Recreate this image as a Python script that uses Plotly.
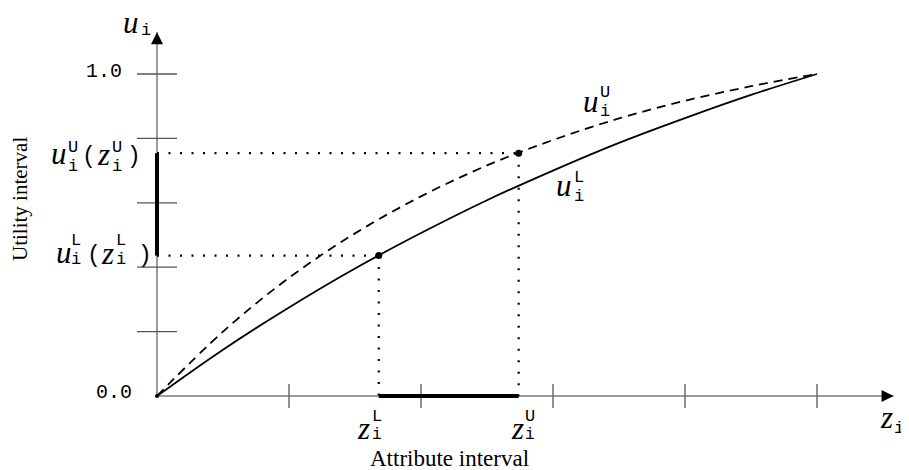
import plotly.graph_objects as go

# ---- data ----
x_grid = [0, 0.5, 1, 1.5, 2, 2.5, 3, 3.5, 4, 4.5, 5]
u_lower = [0, 0.144, 0.275, 0.396, 0.506, 0.608, 0.700, 0.786, 0.863, 0.935, 1.0]
u_upper = [0, 0.200, 0.367, 0.505, 0.620, 0.716, 0.795, 0.862, 0.917, 0.962, 1.0]
z_L = 1.68
z_U = 2.74
u_L_at_zL = 0.436
u_U_at_zU = 0.754
x_ticks = [1, 2, 3, 4, 5]
y_ticks = [0.2, 0.4, 0.6, 0.8, 1.0]
y_tick_label_vals = [0.0, 1.0]
y_tick_labels = ["0.0", "1.0"]
x_axis_end = 5.58
y_axis_end = 1.13

# the page body has an 8px default margin; the figure is sized to fit the window
OFF = 8
W, H = 909 - OFF, 470 - OFF
X0PX, XUNIT = 157 - OFF, 132.0
Y0PX, YUNIT = 396 - OFF, 322.0
xr = [-X0PX / XUNIT, (W - X0PX) / XUNIT]
yr = [-(H - Y0PX) / YUNIT, Y0PX / YUNIT]

SERIF = "Liberation Serif"
MONO = "Liberation Mono"
AXIS_GRAY = "#7a7a7a"
TICK_GRAY = "#555555"

fig = go.Figure()

# axes lines
fig.add_trace(go.Scatter(x=[0, x_axis_end], y=[0, 0], mode="lines",
                         line=dict(color=AXIS_GRAY, width=1.5), hoverinfo="skip"))
fig.add_trace(go.Scatter(x=[0, 0], y=[0, y_axis_end], mode="lines",
                         line=dict(color=AXIS_GRAY, width=1.5), hoverinfo="skip"))

# tick marks
ytx, yty = [], []
for v in y_ticks:
    ytx += [-20 / XUNIT, 20 / XUNIT, None]
    yty += [v, v, None]
fig.add_trace(go.Scatter(x=ytx, y=yty, mode="lines",
                         line=dict(color=TICK_GRAY, width=1.3), hoverinfo="skip"))
xtx, xty = [], []
for v in x_ticks:
    xtx += [v, v, None]
    xty += [-12 / YUNIT, 12 / YUNIT, None]
fig.add_trace(go.Scatter(x=xtx, y=xty, mode="lines",
                         line=dict(color=TICK_GRAY, width=1.3), hoverinfo="skip"))

# dotted guide lines
DOT = dict(color="black", width=2.2, dash="2px,9.5px")
fig.add_trace(go.Scatter(x=[0, z_L], y=[u_L_at_zL, u_L_at_zL], mode="lines", line=DOT, hoverinfo="skip"))
fig.add_trace(go.Scatter(x=[z_L, z_L], y=[u_L_at_zL, 0], mode="lines", line=DOT, hoverinfo="skip"))
fig.add_trace(go.Scatter(x=[0, z_U], y=[u_U_at_zU, u_U_at_zU], mode="lines", line=DOT, hoverinfo="skip"))
fig.add_trace(go.Scatter(x=[z_U, z_U], y=[u_U_at_zU, 0], mode="lines", line=DOT, hoverinfo="skip"))

# curves
fig.add_trace(go.Scatter(x=x_grid, y=u_upper, mode="lines",
                         line=dict(color="black", width=1.8, dash="9px,6px", shape="spline"),
                         hoverinfo="skip"))
fig.add_trace(go.Scatter(x=x_grid, y=u_lower, mode="lines",
                         line=dict(color="black", width=1.8, shape="spline"), hoverinfo="skip"))

# thick intervals
fig.add_trace(go.Scatter(x=[0, 0], y=[u_L_at_zL, u_U_at_zU], mode="lines",
                         line=dict(color="black", width=4), hoverinfo="skip"))
fig.add_trace(go.Scatter(x=[z_L, z_U], y=[0, 0], mode="lines",
                         line=dict(color="black", width=4), hoverinfo="skip"))

# points
fig.add_trace(go.Scatter(x=[z_L, z_U], y=[u_L_at_zL, u_U_at_zU], mode="markers",
                         marker=dict(color="black", size=7), hoverinfo="skip"))
fig.add_trace(go.Scatter(x=[0], y=[0], mode="markers",
                         marker=dict(color="black", size=4), hoverinfo="skip"))

# arrowheads
fig.add_annotation(x=x_axis_end, y=0, ax=-12, ay=0, xref="x", yref="y", text="",
                   showarrow=True, arrowhead=2, arrowsize=1.2, arrowwidth=2, arrowcolor="black")
fig.add_annotation(x=0, y=y_axis_end, ax=0, ay=12, xref="x", yref="y", text="",
                   showarrow=True, arrowhead=2, arrowsize=1.2, arrowwidth=2, arrowcolor="black")

annotations = []


def txt(px, py, text, family, size, italic=False, angle=0):
    """px, py are window pixel positions in the reference picture."""
    px -= OFF
    py -= OFF
    t = f"<i>{text}</i>" if italic else text
    annotations.append(dict(x=px / W, y=1 - py / H, xref="paper", yref="paper",
                            text=t, showarrow=False, xanchor="center", yanchor="middle",
                            textangle=angle, font=dict(family=family, size=size, color="black")))


BIG = 31
SMALL = 17
PAR = 23

# tick labels
label_px = {0.0: (113.5, 392), 1.0: (104, 72)}
for v, s in zip(y_tick_label_vals, y_tick_labels):
    px, py = label_px[v]
    txt(px, py, s, MONO, 20)

# axis symbols
txt(131, 23, "u", SERIF, BIG, True)
txt(146, 30, "i", MONO, SMALL)
txt(886, 417, "z", SERIF, BIG, True)
txt(898.5, 428, "i", MONO, SMALL)

# curve labels
txt(591, 101, "u", SERIF, BIG, True)
txt(605, 92, "U", MONO, SMALL)
txt(605, 111, "i", MONO, SMALL)
txt(564, 186, "u", SERIF, BIG, True)
txt(578.5, 177, "L", MONO, SMALL)
txt(578.5, 196, "i", MONO, SMALL)

# u^U(z^U)
txt(59, 153, "u", SERIF, BIG, True)
txt(73, 147, "U", MONO, SMALL)
txt(73, 166, "i", MONO, SMALL)
txt(88.5, 157, "(", MONO, PAR)
txt(103.5, 155, "z", SERIF, BIG, True)
txt(117, 147, "U", MONO, SMALL)
txt(117, 166, "i", MONO, SMALL)
txt(133.5, 157, ")", MONO, PAR)

# u^L(z^L)
txt(64, 252, "u", SERIF, BIG, True)
txt(76, 241, "L", MONO, SMALL)
txt(76, 260, "i", MONO, SMALL)
txt(93.5, 256, "(", MONO, PAR)
txt(107.5, 254, "z", SERIF, BIG, True)
txt(121, 241, "L", MONO, SMALL)
txt(121, 260, "i", MONO, SMALL)
txt(144.5, 256, ")", MONO, PAR)

# z^L, z^U
txt(363.5, 428, "z", SERIF, BIG, True)
txt(377, 416, "L", MONO, SMALL)
txt(377, 435, "i", MONO, 16)
txt(517.5, 428, "z", SERIF, BIG, True)
txt(530, 416, "U", MONO, SMALL)
txt(530, 435, "i", MONO, 16)

# axis titles
txt(449, 458, "Attribute interval", SERIF, 23)
txt(20, 199, "Utility interval", SERIF, 21, angle=-90)

for a in annotations:
    fig.add_annotation(**a)

fig.update_layout(
    width=W, height=H,
    margin=dict(l=0, r=0, t=0, b=0),
    paper_bgcolor="white", plot_bgcolor="white",
    showlegend=False,
    xaxis=dict(range=xr, visible=False, fixedrange=True),
    yaxis=dict(range=yr, visible=False, fixedrange=True),
)

fig.write_html("out.html")
